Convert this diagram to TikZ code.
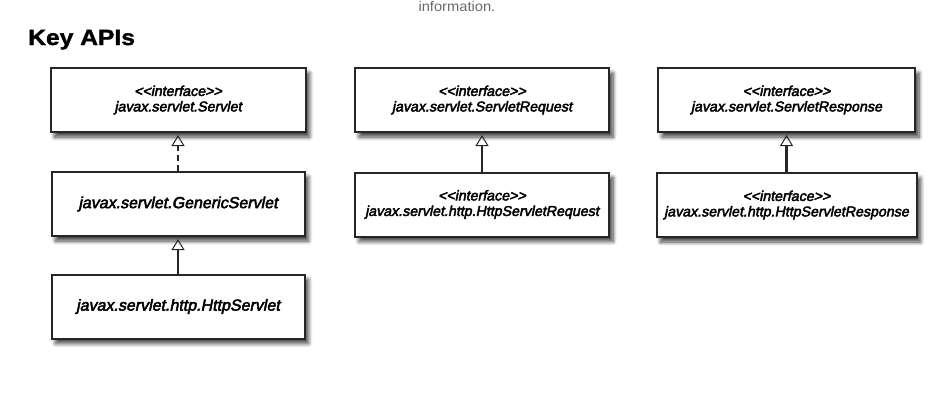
\documentclass[tikz,border=0pt]{standalone}
\usepackage{fontspec}
\usetikzlibrary{arrows.meta,shadows.blur}

\newfontfamily\boxfont[FakeSlant=0.2,FakeBold=3]{Liberation Sans}
\newfontfamily\titlefont[FakeStretch=1.12,BoldFeatures={FakeBold=1.5}]{Liberation Sans}
\newfontfamily\notefont[FakeStretch=1.05]{Liberation Sans}
\definecolor{boxline}{HTML}{262626}
\definecolor{notegray}{HTML}{6A6A6A}

\tikzset{
  apibox/.style={draw=boxline, line width=2pt, fill=white, align=center,
    minimum height=64pt, inner sep=2pt,
    font={\boxfont\fontsize{16}{18}\selectfont},
    blur shadow={shadow xshift=4pt, shadow yshift=-5pt, shadow blur radius=4pt,
      shadow blur steps=8, shadow opacity=75}},
  ifacebox/.style={apibox, font={\boxfont\fontsize{14.2}{15.5}\selectfont}},
  implarrow/.style={line width=2.4pt, draw=boxline, shorten >=2pt,
    -{Triangle[open, width=13pt, length=11pt, line width=1pt]}}
}

\begin{document}
\begin{tikzpicture}[x=1pt, y=-1pt]
  \useasboundingbox (0,0) rectangle (936,408);

  \node[font={\notefont\fontsize{14}{16}\selectfont}, text=notegray, anchor=base west] (note) at (415,11) {information.};
  \node[font={\titlefont\bfseries\fontsize{22}{24}\selectfont}, anchor=base west, inner sep=0pt] (title) at (28,45) {Key APIs};

  % servlet column
  \node[ifacebox, minimum width=255pt] (servlet) at (178,100) {{<}{<}interface{>}{>}\\javax.servlet.Servlet};
  \node[apibox, minimum width=253pt] (generic) at (178,204) {javax.servlet.GenericServlet};
  \node[apibox, minimum width=253pt] (http) at (178,306.5) {javax.servlet.http.HttpServlet};

  % request column
  \node[ifacebox, minimum width=254pt] (request) at (482,100) {{<}{<}interface{>}{>}\\javax.servlet.ServletRequest};
  \node[ifacebox, minimum width=254pt] (httprequest) at (482,204.5) {{<}{<}interface{>}{>}\\javax.servlet.http.HttpServletRequest};

  % response column
  \node[ifacebox, minimum width=257pt] (response) at (786.5,100) {{<}{<}interface{>}{>}\\javax.servlet.ServletResponse};
  \node[ifacebox, minimum width=260pt] (httpresponse) at (786.5,205) {{<}{<}interface{>}{>}\\javax.servlet.http.HttpServletResponse};

  \draw[implarrow, dashed, dash pattern=on 6pt off 4pt] (generic) -- (servlet);
  \draw[implarrow] (http) -- (generic);
  \draw[implarrow] (httprequest) -- (request);
  \draw[implarrow] (httpresponse) -- (response);
\end{tikzpicture}
\end{document}
